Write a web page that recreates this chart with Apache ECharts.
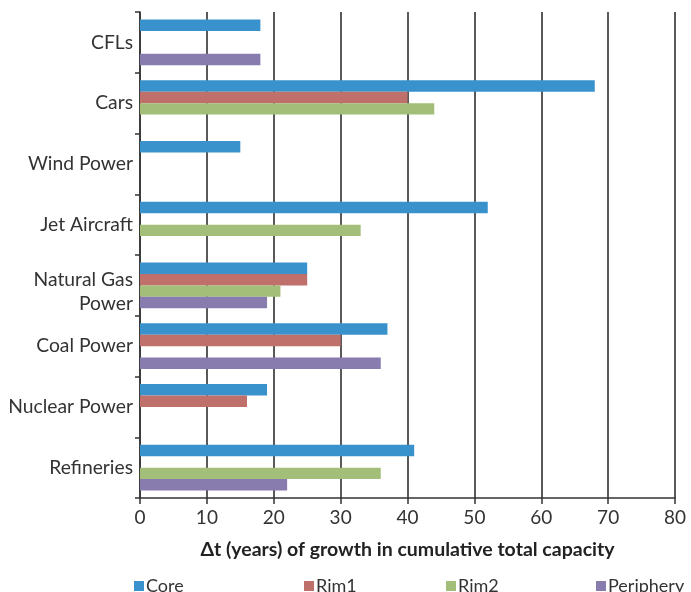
<!DOCTYPE html>
<html><head><meta charset="utf-8">
<script src="https://cdn.jsdelivr.net/npm/echarts@6/dist/echarts.min.js"></script>
<style>html,body{margin:0;padding:0;background:#fff}#c{width:691px;height:592px}</style>
</head><body><div id="c"></div>
<script>
const categories = ['Refineries','Nuclear Power','Coal Power','Natural Gas\nPower','Jet Aircraft','Wind Power','Cars','CFLs'];
const seriesNames = ['Core','Rim1','Rim2','Periphery'];
const core      = [41, 19, 37, 25, 52, 15, 68, 18];
const rim1      = [null, 16, 30, 25, null, null, 40, null];
const rim2      = [36, null, null, 21, 33, null, 44, null];
const periphery = [22, null, 36, 19, null, null, null, 18];
const xTicks = [0, 10, 20, 30, 40, 50, 60, 70, 80];
const colors = ['#3A92CC', '#C0706A', '#A3BE78', '#887CAF'];
const values = [core, rim1, rim2, periphery];

const chart = echarts.init(document.getElementById('c'));
const font = 'Lato, "Open Sans", sans-serif';
const legendLefts = [134, 304, 446, 596];
chart.setOption({
  animation: false,
  color: colors,
  grid: {left: 140, right: 16, top: 12, bottom: 94},
  legend: seriesNames.map((n, i) => ({
    data: [n], left: legendLefts[i], top: 577, icon: 'rect', itemWidth: 10, itemHeight: 10, itemGap: 0, padding: 0,
    textStyle: {fontFamily: font, fontSize: 18, color: '#333', padding: [0, 0, 0, -3]}
  })),
  xAxis: {
    type: 'value', min: xTicks[0], max: xTicks[xTicks.length - 1], interval: 10,
    name: 'Δt (years) of growth in cumulative total capacity',
    nameLocation: 'middle', nameGap: 42,
    nameTextStyle: {fontFamily: font, fontSize: 19.5, fontWeight: 'bold', color: '#222'},
    axisLine: {show: true, lineStyle: {color: '#333', width: 1.5}},
    axisTick: {show: true, length: 6, lineStyle: {color: '#333', width: 1.5}},
    axisLabel: {fontFamily: font, fontSize: 19, color: '#333', margin: 10},
    splitLine: {show: true, lineStyle: {color: '#222', width: 1.5}}
  },
  yAxis: {
    type: 'category', data: categories,
    axisLine: {show: true, lineStyle: {color: '#333', width: 1.5}},
    axisTick: {show: true, length: 5, lineStyle: {color: '#333', width: 1.5}},
    axisLabel: {
      fontFamily: font, fontSize: 19.3, color: '#333', margin: 7,
      formatter: v => {
        if (v.indexOf('\n') < 0) return v;
        const parts = v.split('\n');
        return '{e| }\n{t|' + parts[0] + '}\n{t|' + parts[1] + '}';
      },
      rich: {
        e: {lineHeight: 12, fontSize: 10},
        t: {lineHeight: 24, fontFamily: font, fontSize: 19.3, color: '#333'}
      }
    }
  },
  series: seriesNames.map((n, i) => ({
    name: n, type: 'bar', data: values[i], barGap: '0%', barCategoryGap: '25%',
    itemStyle: {color: colors[i]}
  }))
});
</script></body></html>
